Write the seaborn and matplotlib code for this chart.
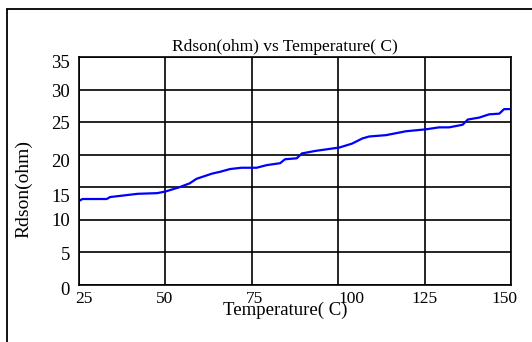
import matplotlib
matplotlib.use("Agg")
import matplotlib.pyplot as plt
import matplotlib.transforms as mtransforms
import pandas as pd
import seaborn as sns
from matplotlib.lines import Line2D

# Rdson vs temperatura
temperatura = [25, 26, 33, 34, 42, 47.6, 50, 54, 57, 59, 63.5, 66, 68.7, 72,
               76.4, 79.3, 83.2, 84.6, 88, 89.5, 93.6, 100.3, 104, 107, 109,
               113.8, 119.6, 125.4, 129.2, 132.1, 136, 137.5, 140.8, 143.7,
               146.6, 148, 150]
rdson = [12.9, 13.2, 13.2, 13.5, 14.0, 14.1, 14.35, 15.0, 15.6, 16.3, 17.1,
         17.4, 17.8, 18.0, 18.0, 18.4, 18.7, 19.3, 19.45, 20.2, 20.6, 21.1,
         21.7, 22.5, 22.8, 23.0, 23.6, 23.9, 24.2, 24.2, 24.6, 25.4, 25.7,
         26.2, 26.3, 27.0, 27.0]
xticks = [25, 50, 75, 100, 125, 150]
yticks = [0, 5, 10, 15, 20, 25, 30, 35]

df = pd.DataFrame({"T": temperatura, "R": rdson})

sns.set_theme(style="white")
plt.rcParams["font.family"] = ["Liberation Serif", "DejaVu Serif"]

fig = plt.figure(figsize=(5.32, 3.42), dpi=100)
ax = fig.add_axes([79 / 532, 57 / 342, 432 / 532, 228 / 342])

sns.lineplot(data=df, x="T", y="R", ax=ax, color="#0000FF", linewidth=1.6,
             estimator=None, sort=False)

ax.set_xlim(25, 150)
ax.set_ylim(0, 35)
ax.set_xticks(xticks)
ax.set_yticks(yticks)
ax.tick_params(length=0, colors="black")
ax.tick_params(axis="x", pad=4, labelsize=12.5)
ax.tick_params(axis="y", pad=6.5, labelsize=13.5)
ax.grid(True, color="black", linewidth=1.2)
for s in ax.spines.values():
    s.set_color("black")
    s.set_linewidth(1.2)

# os rotulos do original nao ficam bem centrados nas linhas
desl_x = [5, -1, 3, 13, 0, -7]
desl_y = [-3.5, -1, 0, -8, -6, -0.5, -0.5, -4]
for lab, dx in zip(ax.get_xticklabels(), desl_x):
    lab.set_transform(lab.get_transform() + mtransforms.ScaledTranslation(dx / 100, 0, fig.dpi_scale_trans))
for lab, dy in zip(ax.get_yticklabels(), desl_y):
    lab.set_transform(lab.get_transform() + mtransforms.ScaledTranslation(0, dy / 100, fig.dpi_scale_trans))

ax.set_xlabel("Temperature( C)", fontsize=13.5, color="black")
ax.set_ylabel("Rdson(ohm)", fontsize=14, color="black")
ax.xaxis.set_label_coords(0.477, -0.072)
ax.yaxis.set_label_coords(-0.109, 0.421)
ax.text(0.476, 1.009, "Rdson(ohm) vs Temperature( C)", transform=ax.transAxes,
        ha="center", va="bottom", fontsize=12.5, color="black")

# moldura externa (so esquerda e topo aparecem na imagem)
fig.add_artist(Line2D([7 / 532, 7 / 532], [0, 1 - 9 / 342], transform=fig.transFigure,
                      color="black", linewidth=1.3))
fig.add_artist(Line2D([7 / 532, 1], [1 - 9 / 342, 1 - 9 / 342], transform=fig.transFigure,
                      color="black", linewidth=1.3))

fig.savefig("out.png", dpi=100)
plt.close(fig)
